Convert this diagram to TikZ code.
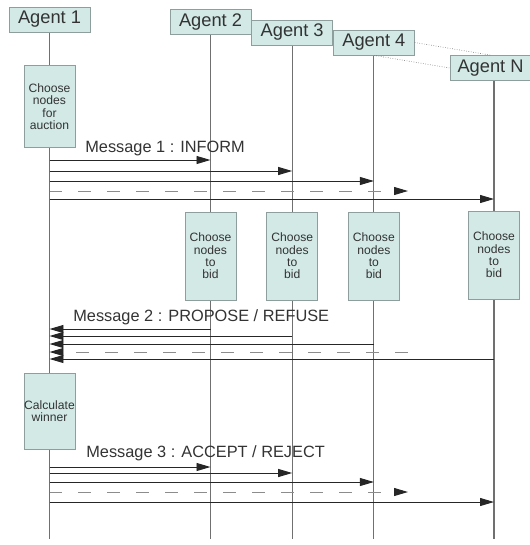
\documentclass[tikz,border=0pt]{standalone}
\usepackage{fontspec}
\setmainfont{Liberation Sans}
\usetikzlibrary{arrows.meta,backgrounds,positioning}
\definecolor{boxfill}{HTML}{D2E9E6}
\definecolor{boxline}{HTML}{8E9E9C}
\definecolor{textgray}{HTML}{333333}
\definecolor{lifegray}{HTML}{707070}

\begin{document}
\begin{tikzpicture}[
  x=0.02cm, y=-0.02cm,
  >={Triangle[length=0.28cm,width=0.16cm,color=black!85]},
  agent/.style={draw=boxline, fill=boxfill, text=textgray, minimum width=1.62cm, minimum height=0.5cm, inner sep=0pt, font=\fontsize{10.4}{12}\selectfont},
  task/.style={draw=boxline, fill=boxfill, text=textgray, inner sep=0pt, minimum width=1.02cm, align=center, font=\fontsize{6.9}{7}\selectfont},
  life/.style={draw=lifegray, line width=0.6pt},
  msg/.style={->, draw=black!85, line width=0.55pt},
  later/.style={msg, draw=black!45, dash pattern=on 0.26cm off 0.32cm},
  msglabel/.style={text=textgray, anchor=west, inner sep=0pt, font=\fontsize{9.3}{11}\selectfont},
  dotline/.style={draw=black!55, densely dotted, line width=0.35pt}
]
  \useasboundingbox (0,0) rectangle (530,545);

  % agents along the top
  \node[agent] (a1) at (49.5,19.5) {Agent 1};
  \node[agent] (a2) at (210.5,22) {Agent 2};
  \node[agent, right=0cm of a2, yshift=-0.21cm] (a3) {Agent 3};
  \node[agent, right=0cm of a3, yshift=-0.2cm] (a4) {Agent 4};
  \node[agent, right=0.7cm of a4, yshift=-0.51cm] (aN) {Agent N};
  \draw[dotline] (a4.east) -- (aN.north);
  \draw[dotline] (a4.south) -- (aN.west);

  % activity boxes
  \node[task, minimum height=1.64cm, below=0.66cm of a1] (auction) {Choose\\nodes\\for\\auction};
  \node[task, minimum height=1.52cm, below=4.5cm of auction] (winner) {Calculate\\winner};
  \coordinate (bidrow) at (0,256);
  \node[task, minimum height=1.76cm] (bid2) at (a2 |- bidrow) {Choose\\nodes\\to\\bid};
  \node[task, minimum height=1.76cm] (bid3) at (a3 |- bidrow) {Choose\\nodes\\to\\bid};
  \node[task, minimum height=1.76cm] (bid4) at (a4 |- bidrow) {Choose\\nodes\\to\\bid};
  \node[task, minimum height=1.76cm] (bidN) at (494,255) {Choose\\nodes\\to\\bid};

  % lifelines
  \coordinate (bottom) at (0,539);
  \coordinate (gap) at (408,0);
  \begin{scope}[on background layer]
    \draw[life] (a1) -- (auction) (auction) -- (winner) (winner) -- (a1 |- bottom);
    \foreach \a/\b in {a2/bid2, a3/bid3, a4/bid4}
      \draw[life] (\a) -- (\b) (\b) -- (\a |- bottom);
    \draw[life] (aN.south -| bidN) -- (bidN) (bidN) -- (bidN |- bottom);
  \end{scope}

  % message 1
  \node[msglabel] (m1) at (85,148) {Message 1 : INFORM};
  \foreach \n/\y in {1/160,2/171,3/181,4/191,5/199} \coordinate (r1\n) at (0,\y);
  \foreach \r/\t in {11/a2,12/a3,13/a4,15/bidN}
    \draw[msg] (a1 |- r\r) -- (\t |- r\r);
  \draw[later] (a1 |- r14) -- (gap |- r14);

  % message 2
  \node[msglabel] (m2) at (73,317) {Message 2 : PROPOSE / REFUSE};
  \foreach \n/\y in {1/329,2/336,3/344,4/352,5/359} \coordinate (r2\n) at (0,\y);
  \foreach \r/\f in {21/a2,22/a3,23/a4,25/bidN}
    \draw[msg] (\f |- r\r) -- (a1 |- r\r);
  \draw[later] (gap |- r24) -- (a1 |- r24);

  % message 3
  \node[msglabel] (m3) at (86,453) {Message 3 : ACCEPT / REJECT};
  \foreach \n/\y in {1/467,2/473,3/482,4/492,5/502} \coordinate (r3\n) at (0,\y);
  \foreach \r/\t in {31/a2,32/a3,33/a4,35/bidN}
    \draw[msg] (a1 |- r\r) -- (\t |- r\r);
  \draw[later] (a1 |- r34) -- (gap |- r34);
\end{tikzpicture}
\end{document}
